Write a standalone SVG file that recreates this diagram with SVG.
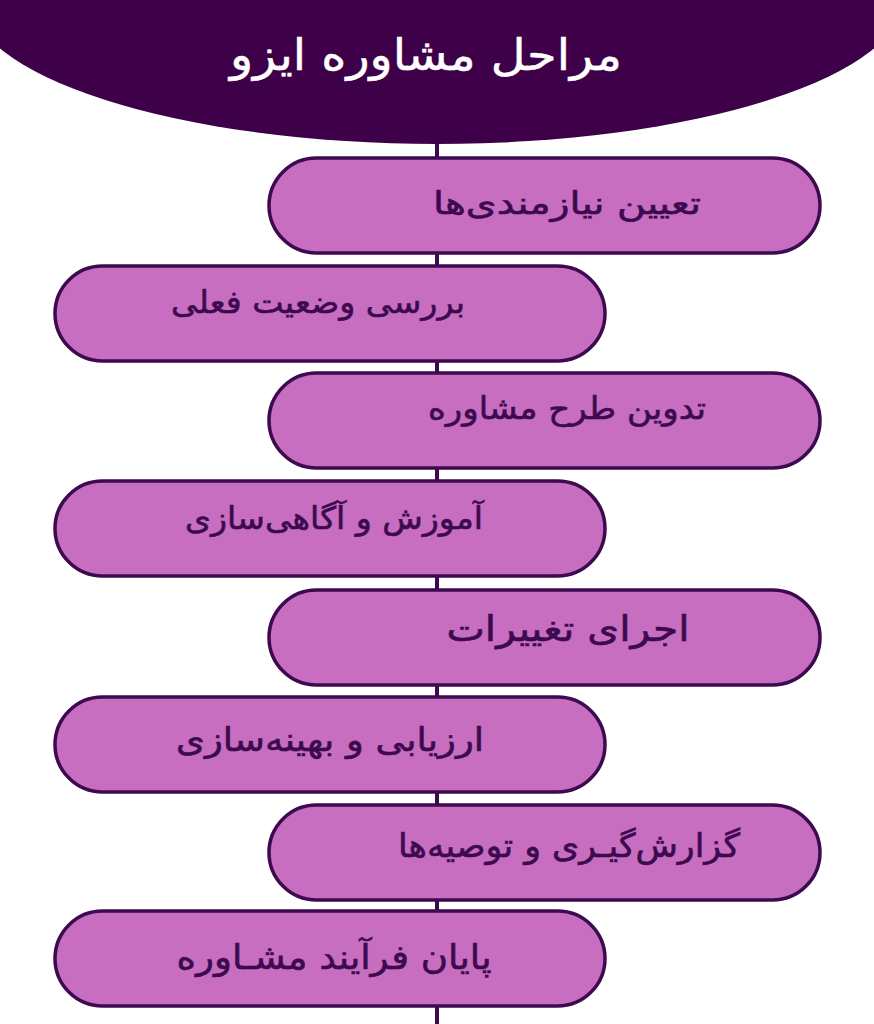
<svg xmlns="http://www.w3.org/2000/svg" width="874" height="1024" viewBox="0 0 874 1024">
<style>
.pill{fill:#c76ec0;stroke:#3d0a4f;stroke-width:3.5}
.lbl{font-family:"DejaVu Sans",sans-serif;font-size:31px;fill:#3d0a4f;stroke:#3d0a4f;stroke-width:0.6;text-anchor:middle;direction:rtl}
.title{font-family:"DejaVu Sans",sans-serif;font-size:44px;fill:#ffffff;stroke:#ffffff;stroke-width:0.5;text-anchor:middle;direction:rtl}
</style>
<rect width="874" height="1024" fill="#ffffff"/>
<g id="connectors">
<line x1="437" y1="100" x2="437" y2="1024" stroke="#3d0a4f" stroke-width="4"/>
</g>
<g id="header">
<ellipse cx="437" cy="-7" rx="470" ry="151" fill="#3e0048"/>
<text class="title" x="426" y="70" textLength="392" lengthAdjust="spacingAndGlyphs">مراحل مشاوره ایزو</text>
</g>
<g id="step1">
<rect class="pill" x="269" y="158" width="551" height="95" rx="47.5"/>
<text class="lbl" x="567" y="214" textLength="268" lengthAdjust="spacingAndGlyphs">تعیین نیازمندی‌ها</text>
</g>
<g id="step2">
<rect class="pill" x="55" y="266" width="550" height="95" rx="47.5"/>
<text class="lbl" x="318" y="313" textLength="294" lengthAdjust="spacingAndGlyphs">بررسی وضعیت فعلی</text>
</g>
<g id="step3">
<rect class="pill" x="269" y="373" width="551" height="95" rx="47.5"/>
<text class="lbl" x="567" y="419" textLength="278" lengthAdjust="spacingAndGlyphs">تدوین طرح مشاوره</text>
</g>
<g id="step4">
<rect class="pill" x="55" y="481" width="550" height="95" rx="47.5"/>
<text class="lbl" x="334" y="529" textLength="298" lengthAdjust="spacingAndGlyphs">آموزش و آگاهی‌سازی</text>
</g>
<g id="step5">
<rect class="pill" x="269" y="590" width="551" height="95" rx="47.5"/>
<text class="lbl" x="568" y="641" style="font-size:35px" textLength="243" lengthAdjust="spacingAndGlyphs">اجرای تغییرات</text>
</g>
<g id="step6">
<rect class="pill" x="55" y="697" width="550" height="95" rx="47.5"/>
<text class="lbl" x="330" y="751" style="font-size:33px" textLength="308" lengthAdjust="spacingAndGlyphs">ارزیابی و بهینه‌سازی</text>
</g>
<g id="step7">
<rect class="pill" x="269" y="805" width="551" height="95" rx="47.5"/>
<text class="lbl" x="569" y="857" style="font-size:33px" textLength="342" lengthAdjust="spacingAndGlyphs">گزارش‌گیـری و توصیه‌ها</text>
</g>
<g id="step8">
<rect class="pill" x="55" y="911" width="550" height="95" rx="47.5"/>
<text class="lbl" x="334" y="969" style="font-size:34px" textLength="315" lengthAdjust="spacingAndGlyphs">پایان فرآیند مشـاوره</text>
</g>
</svg>
